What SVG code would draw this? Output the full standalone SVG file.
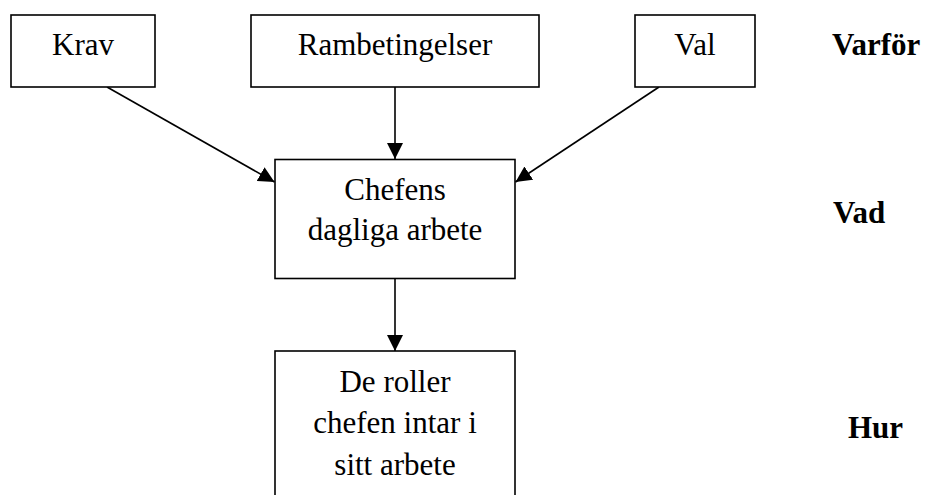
<svg xmlns="http://www.w3.org/2000/svg" width="925" height="495" viewBox="0 0 925 495">
<style>
.n{fill:#fff;stroke:#000;stroke-width:1.6}
text{font-family:"Liberation Serif","Times New Roman",serif;font-size:31px;fill:#000}
.c{text-anchor:middle}
.b{font-weight:bold}
.e{stroke:#000;stroke-width:1.6;fill:none;marker-end:url(#ah)}
</style>
<defs>
<marker id="ah" markerUnits="userSpaceOnUse" markerWidth="17" markerHeight="16" refX="16" refY="8" orient="auto">
<path d="M0,0 L16,8 L0,16 Z" fill="#000"/>
</marker>
</defs>
<rect width="925" height="495" fill="#fff"/>
<g id="connectors">
<line class="e" x1="107" y1="87" x2="274.5" y2="182"/>
<line class="e" x1="395" y1="87" x2="395" y2="159"/>
<line class="e" x1="659" y1="87" x2="515.5" y2="182"/>
<line class="e" x1="395" y1="279" x2="395" y2="351"/>
</g>
<g id="krav"><rect class="n" x="11" y="15" width="144" height="72"/><text class="c" x="83" y="55">Krav</text></g>
<g id="rambetingelser"><rect class="n" x="251" y="15" width="288" height="72"/><text class="c" x="395" y="55">Rambetingelser</text></g>
<g id="val"><rect class="n" x="635" y="15" width="120" height="72"/><text class="c" x="695" y="55">Val</text></g>
<g id="chefens"><rect class="n" x="275" y="159.5" width="240" height="119"/><text class="c" x="395" y="200">Chefens</text><text class="c" x="395" y="240">dagliga arbete</text></g>
<g id="roller"><rect class="n" x="275" y="351" width="240" height="150"/><text class="c" x="395" y="392">De roller</text><text class="c" x="395" y="433">chefen intar i</text><text class="c" x="395" y="475">sitt arbete</text></g>
<g id="labels">
<text class="b" x="832" y="55">Varför</text>
<text class="b" x="833" y="223">Vad</text>
<text class="b" x="848" y="438">Hur</text>
</g>
</svg>
